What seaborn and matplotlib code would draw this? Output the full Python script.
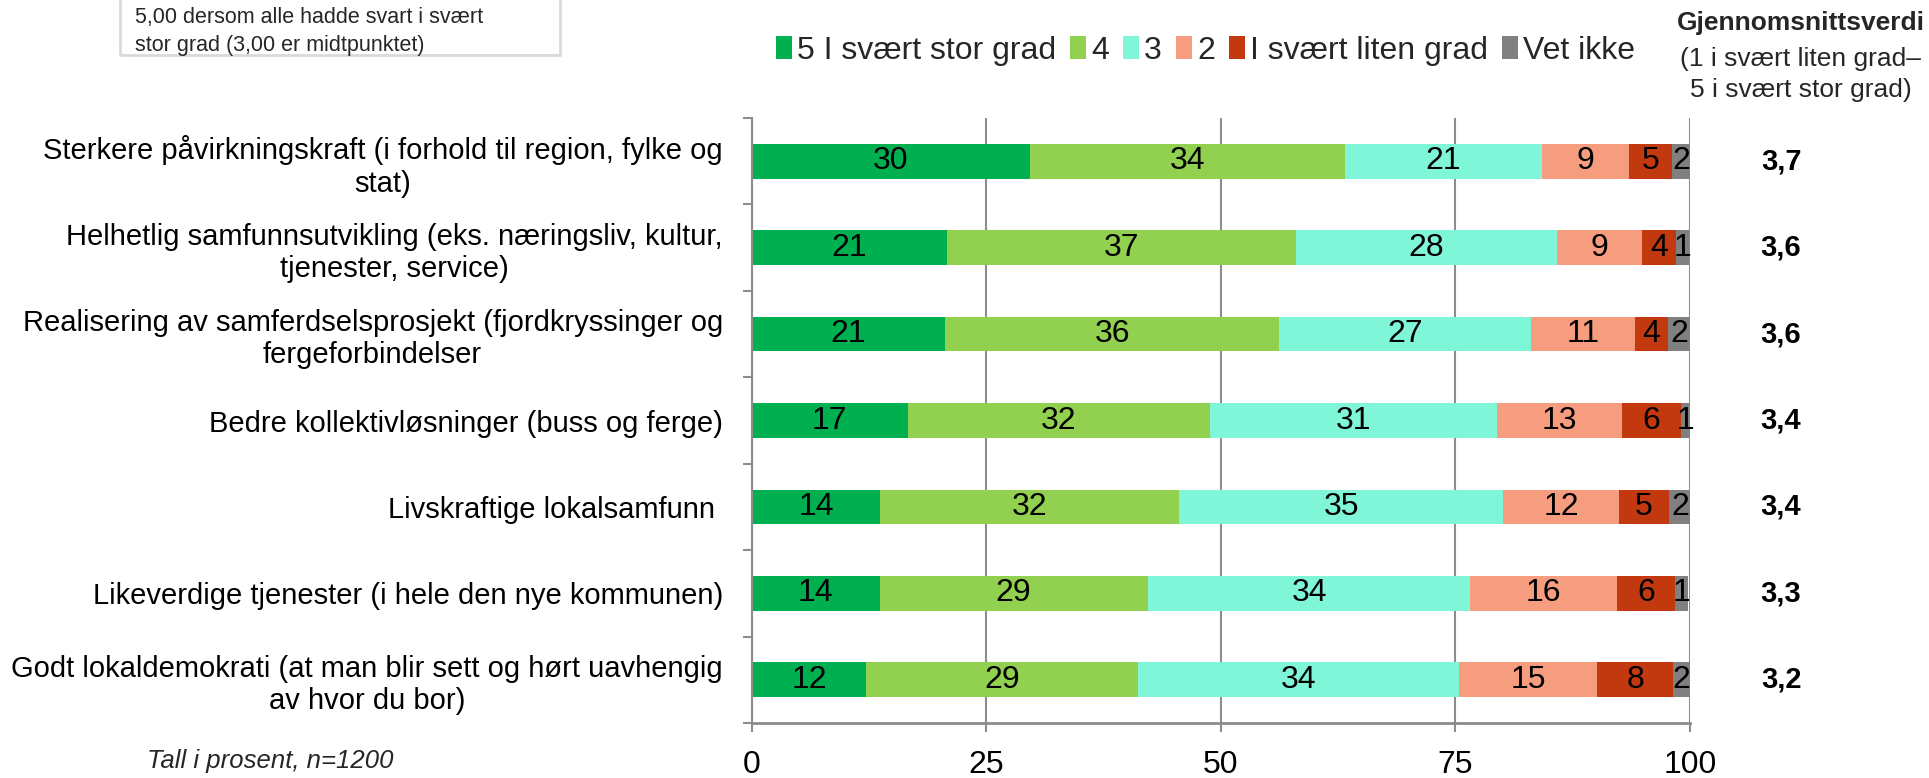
import matplotlib
matplotlib.use("Agg")
import matplotlib.pyplot as plt
from matplotlib.patches import Patch, Rectangle
from matplotlib.transforms import blended_transform_factory
import seaborn as sns
import pandas as pd
import numpy as np

categories = [
    "Sterkere påvirkningskraft (i forhold til region, fylke og\nstat)",
    "Helhetlig samfunnsutvikling (eks. næringsliv, kultur,\ntjenester, service)",
    "Realisering av samferdselsprosjekt (fjordkryssinger og\nfergeforbindelser",
    "Bedre kollektivløsninger (buss og ferge)",
    "Livskraftige lokalsamfunn ",
    "Likeverdige tjenester (i hele den nye kommunen)",
    "Godt lokaldemokrati (at man blir sett og hørt uavhengig\nav hvor du bor)",
]
levels = ["5 I svært stor grad", "4", "3", "2", "I svært liten grad", "Vet ikke"]

grad_5 = [29.6, 20.8, 20.6, 16.6, 13.7, 13.6, 12.2]
grad_4 = [33.6, 37.2, 35.6, 32.2, 31.8, 28.6, 29.0]
grad_3 = [21.0, 27.8, 26.9, 30.6, 34.6, 34.4, 34.2]
grad_2 = [9.3, 9.1, 11.0, 13.3, 12.3, 15.6, 14.7]
grad_1 = [4.6, 3.6, 3.6, 6.3, 5.4, 6.2, 8.1]
vet_ikke = [1.9, 1.4, 2.3, 1.0, 2.3, 1.4, 1.8]

means = ["3,7", "3,6", "3,6", "3,4", "3,4", "3,3", "3,2"]

colors = ["#00B050", "#92D050", "#7FF6D8", "#F59D7E", "#C3390F", "#808080"]

df = pd.DataFrame({"kategori": categories})
for lvl, vals in zip(levels, [grad_5, grad_4, grad_3, grad_2, grad_1, vet_ikke]):
    df[lvl] = vals
cum = df[levels].cumsum(axis=1)

sns.set_theme(style="white")
plt.rcParams["font.family"] = ["Liberation Sans", "DejaVu Sans"]

fig = plt.figure(figsize=(19.29, 7.78), dpi=100)
ax = fig.add_axes([0.3898, 0.0707, 0.4863, 0.7776])

grey = "#8C8C8C"

# stacked bars: draw cumulative totals from the right end inwards
for lvl, col in reversed(list(zip(levels, colors))):
    sns.barplot(x=cum[lvl], y=df["kategori"], orient="h", color=col, saturation=1,
                width=0.4, errorbar=None, linewidth=0, ax=ax, zorder=2)

for i in range(len(categories)):
    for lvl in levels:
        val = df.loc[i, lvl]
        ax.text(cum.loc[i, lvl] - val / 2, i, f"{val:.0f}", ha="center", va="center",
                fontsize=23, color="black", zorder=5)

trans = blended_transform_factory(fig.transFigure, ax.transData)
for i, m in enumerate(means):
    ax.text(0.9233, i, m, transform=trans, ha="center", va="center",
            fontsize=21, fontweight="bold", color="black")

ax.set_xlim(0, 100)
ax.set_ylim(6.5, -0.5)
ax.set_xticks([0, 25, 50, 75, 100])
ax.set_xlabel("")
ax.set_ylabel("")
ax.set_yticks(np.arange(-0.5, 7.0, 1.0), minor=True)

ax.tick_params(axis="y", which="major", left=False, length=0, pad=21, labelsize=21, labelcolor="black")
ax.tick_params(axis="y", which="minor", left=True, length=6.5, width=1.5, color=grey, direction="out")
ax.tick_params(axis="x", which="major", bottom=True, length=6.5, width=1.5, color=grey,
               direction="out", pad=13, labelsize=23, labelcolor="black")
for lbl in ax.get_yticklabels():
    lbl.set_multialignment("center")

ax.grid(axis="x", color=grey, linewidth=1.5)
ax.grid(axis="y", visible=False)
ax.set_axisbelow(True)
for side in ["top", "right"]:
    ax.spines[side].set_visible(False)
ax.spines["left"].set_color(grey)
ax.spines["left"].set_linewidth(1.5)
ax.spines["bottom"].set_color(grey)
ax.spines["bottom"].set_linewidth(2)

handles = [Patch(facecolor=c, edgecolor="none", label=l) for c, l in zip(colors, levels)]
fig.legend(handles=handles, loc="center", bbox_to_anchor=(0.625, 0.935), ncol=6, frameon=False,
           fontsize=23, handlelength=0.5, handleheight=0.75, handletextpad=0.15,
           columnspacing=0.45, borderaxespad=0)

# mean value header
fig.text(0.9337, 1 - 23 / 778, "Gjennomsnittsverdi", ha="center", va="center",
         fontsize=19, fontweight="bold")
fig.text(0.9335, 1 - 59 / 778, "(1 i svært liten grad–", ha="center", va="center", fontsize=19)
fig.text(0.9335, 1 - 90 / 778, "5 i svært stor grad)", ha="center", va="center", fontsize=19)

# explanation box (partly outside the top edge)
fig.patches.append(Rectangle((120 / 1929, 1 - 55 / 778), 440 / 1929, 0.2, transform=fig.transFigure,
                             fill=False, edgecolor="#D9D9D9", linewidth=2))
fig.text(135 / 1929, 1 - 17 / 778, "5,00 dersom alle hadde svart i svært", ha="left", va="center",
         fontsize=15.5)
fig.text(135 / 1929, 1 - 46 / 778, "stor grad (3,00 er midtpunktet)", ha="left", va="center",
         fontsize=15.5)

fig.text(270 / 1929, 1 - 761 / 778, "Tall i prosent, n=1200", ha="center", va="center",
         fontsize=18.5, fontstyle="italic")

fig.savefig("out.png", dpi=100)
